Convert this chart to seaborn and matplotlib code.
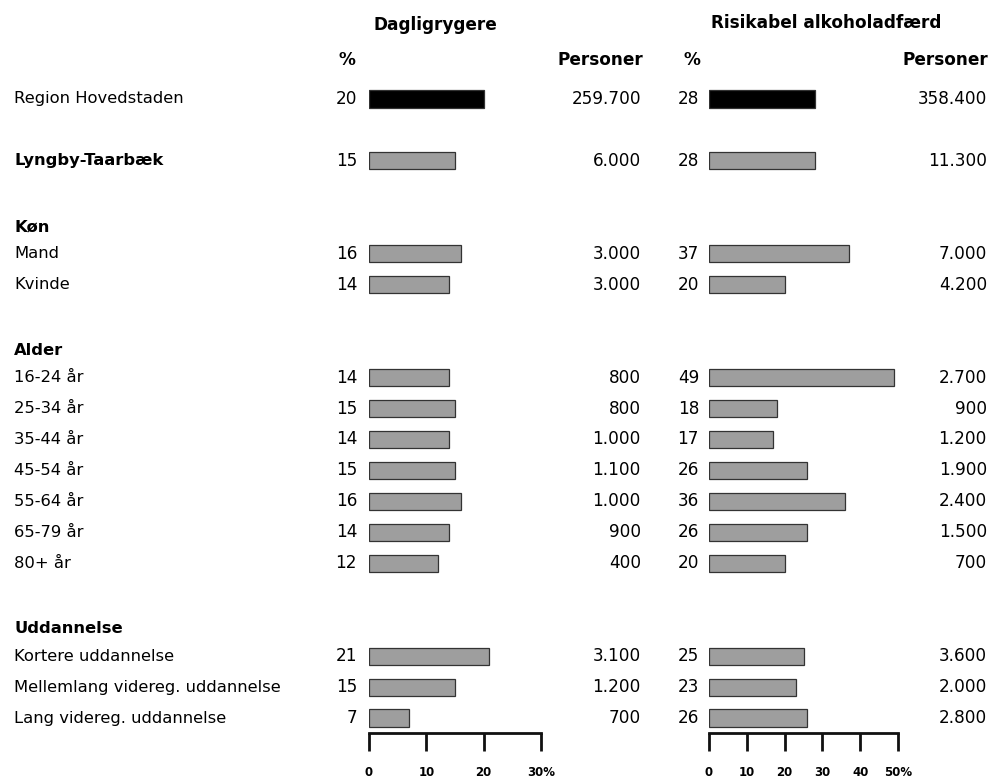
import numpy as np
import pandas as pd
import matplotlib
matplotlib.use("Agg")
import matplotlib.pyplot as plt
import matplotlib.transforms as mtransforms
import seaborn as sns

# ---- data -------------------------------------------------------------
row_labels = ["Region Hovedstaden", "Lyngby-Taarbæk",
              "Mand", "Kvinde",
              "16-24 år", "25-34 år", "35-44 år", "45-54 år", "55-64 år", "65-79 år", "80+ år",
              "Kortere uddannelse", "Mellemlang videreg. uddannelse", "Lang videreg. uddannelse"]
smoke_pct = [20, 15, 16, 14, 14, 15, 14, 15, 16, 14, 12, 21, 15, 7]
smoke_persons = [259700, 6000, 3000, 3000, 800, 800, 1000, 1100, 1000, 900, 400, 3100, 1200, 700]
alcohol_pct = [28, 28, 37, 20, 49, 18, 17, 26, 36, 26, 20, 25, 23, 26]
alcohol_persons = [358400, 11300, 7000, 4200, 2700, 900, 1200, 1900, 2400, 1500, 700, 3600, 2000, 2800]
group_headers = {"Køn": "Mand", "Alder": "16-24 år", "Uddannelse": "Kortere uddannelse"}
bold_rows = ["Lyngby-Taarbæk"]
smoke_ticks = [0, 10, 20, 30]
alcohol_ticks = [0, 10, 20, 30, 40, 50]

# ---- table layout: one slot per line, gaps and headers included ----------
layout = ["Region Hovedstaden", "_gap0", "Lyngby-Taarbæk", "_gap1",
          "Køn", "Mand", "Kvinde", "_gap2",
          "Alder", "16-24 år", "25-34 år", "35-44 år", "45-54 år", "55-64 år", "65-79 år", "80+ år", "_gap3",
          "Uddannelse", "Kortere uddannelse", "Mellemlang videreg. uddannelse", "Lang videreg. uddannelse"]

df = pd.DataFrame({"row": row_labels,
                   "smoke": smoke_pct, "alcohol": alcohol_pct,
                   "smoke_n": smoke_persons, "alcohol_n": alcohol_persons})
df["kind"] = ["region"] + ["other"] * (len(df) - 1)
full = pd.DataFrame({"row": layout}).merge(df, on="row", how="left")

palette = {"region": "#000000", "other": "#9e9e9e"}


def dk(n):
    return f"{n:,}".replace(",", ".")


W, H = 991, 782
fig = plt.figure(figsize=(W / 100, H / 100), dpi=100)
fig.patch.set_facecolor("white")
plt.rcParams["font.family"] = ["DejaVu Sans"]

FS = 11.8
NFS = 12.2
top_px, bot_px = 70, 733
row0_px, step_px = 99, 30.95
ylim = ((bot_px - row0_px) / step_px, (top_px - row0_px) / step_px)


def panel(x0, x1, col, xmax, ticks):
    ax = fig.add_axes([x0 / W, 1 - bot_px / H, (x1 - x0) / W, (bot_px - top_px) / H])
    sns.barplot(data=full, y="row", x=col, hue="kind", palette=palette, order=layout,
                orient="h", dodge=False, width=0.55, legend=False, ax=ax,
                edgecolor="#333333", linewidth=0.9, errorbar=None)
    ax.set_xlim(0, xmax)
    ax.set_ylim(*ylim)
    ax.set_facecolor("none")
    for s in ["top", "right", "left"]:
        ax.spines[s].set_visible(False)
    ax.spines["bottom"].set_linewidth(2)
    ax.spines["bottom"].set_color("#111111")
    ax.set_yticks([])
    ax.set_xticks(ticks)
    ax.set_xticklabels([str(t) for t in ticks[:-1]] + [f"{ticks[-1]}%"],
                       fontsize=8.5, fontweight="bold")
    ax.tick_params(axis="x", length=13, width=2, color="#111111", pad=11, direction="out")
    ax.set_xlabel("")
    ax.set_ylabel("")
    return ax


ax1 = panel(369, 541, "smoke", 30, smoke_ticks)
ax2 = panel(709, 898, "alcohol", 50, alcohol_ticks)

# text columns: x given in figure pixels, y in table rows
tr = mtransforms.blended_transform_factory(
    mtransforms.Affine2D().scale(1 / W, 1) + fig.transFigure, ax1.transData)
for i, name in enumerate(layout):
    r = full.iloc[i]
    if name in group_headers:
        ax1.text(14, i + 0.12, name, transform=tr, fontsize=FS, fontweight="bold",
                 va="center", ha="left", clip_on=False)
        continue
    if name.startswith("_gap"):
        continue
    ax1.text(14, i, name, transform=tr, fontsize=FS,
             fontweight="bold" if name in bold_rows else "normal",
             va="center", ha="left", clip_on=False)
    ax1.text(357, i, f"{int(r.smoke)}", transform=tr, fontsize=NFS, va="center", ha="right")
    ax1.text(641, i, dk(int(r.smoke_n)), transform=tr, fontsize=NFS, va="center", ha="right")
    ax1.text(699, i, f"{int(r.alcohol)}", transform=tr, fontsize=NFS, va="center", ha="right")
    ax1.text(987, i, dk(int(r.alcohol_n)), transform=tr, fontsize=NFS, va="center", ha="right")


# column headings
def head(x, y, s, ha="center"):
    fig.text(x / W, 1 - y / H, s, fontsize=12.2, fontweight="bold", ha=ha, va="center")


head(435, 25, "Dagligrygere")
head(347, 60, "%")
head(643, 60, "Personer", ha="right")
head(826, 23, "Risikabel alkoholadfærd")
head(692, 60, "%")
head(988, 60, "Personer", ha="right")

fig.savefig("out.png", dpi=100)
